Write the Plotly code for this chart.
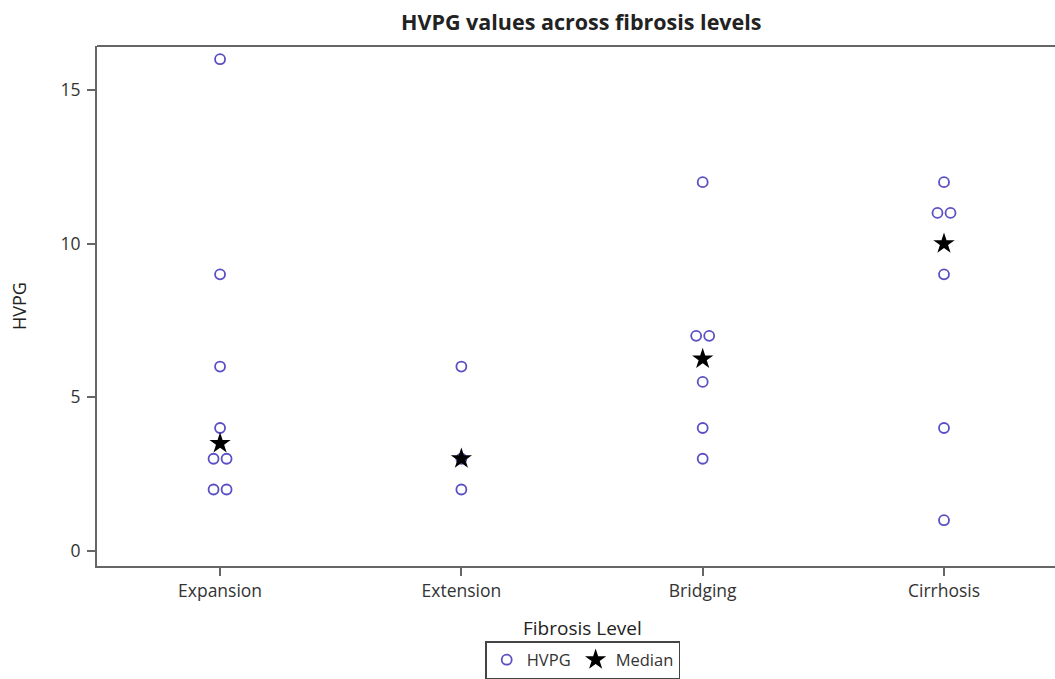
import plotly.graph_objects as go
import numpy as np

categories = ["Expansion", "Extension", "Bridging", "Cirrhosis"]
hvpg_values = {
    "Expansion": [16, 9, 6, 4, 3, 3, 2, 2],
    "Extension": [6, 3, 2],
    "Bridging": [12, 7, 7, 5.5, 4, 3],
    "Cirrhosis": [12, 11, 11, 9, 4, 1],
}
y_ticks = [0, 5, 10, 15]

# build jittered positions for duplicate values (layout only)
xs, ys = [], []
for i, cat in enumerate(categories):
    vals = hvpg_values[cat]
    seen = {}
    for v in vals:
        n = vals.count(v)
        k = seen.get(v, 0)
        seen[v] = k + 1
        off = 0.0 if n == 1 else (k - (n - 1) / 2) * 0.054
        xs.append(i + off)
        ys.append(v)

medians = [float(np.median(hvpg_values[c])) for c in categories]

fig = go.Figure()
fig.add_trace(go.Scatter(
    x=xs, y=ys, mode="markers", name="HVPG",
    marker=dict(symbol="circle-open", size=10, color="#5a4fc4", line=dict(width=1.8, color="#5a4fc4")),
))
fig.add_trace(go.Scatter(
    x=list(range(len(categories))), y=medians, mode="markers", name="Median",
    marker=dict(symbol="star", size=16, color="black", line=dict(width=0)),
))

axis_col = "#666666"
PLOT_TOP, PLOT_BOTTOM = 46, 566
PH = PLOT_BOTTOM - PLOT_TOP

fig.update_layout(
    width=1055, height=679,
    paper_bgcolor="white", plot_bgcolor="white",
    margin=dict(l=97, r=0, t=PLOT_TOP, b=679 - PLOT_BOTTOM, autoexpand=False),
    font=dict(family="Open Sans", color="#333333"),
    xaxis=dict(
        range=[-0.51, 3.46], tickmode="array", tickvals=list(range(len(categories))),
        ticktext=categories, showgrid=False, zeroline=False, automargin=False,
        showline=True, linecolor=axis_col, linewidth=2,
        ticks="outside", ticklen=8, tickcolor=axis_col, tickwidth=1.5,
        tickfont=dict(size=17.5, color="#333333"),
    ),
    yaxis=dict(
        range=[-0.49, 16.43], tickvals=y_ticks, showgrid=False, zeroline=False, automargin=False,
        showline=True, linecolor=axis_col, linewidth=2,
        ticks="outside", ticklen=8, tickcolor=axis_col, tickwidth=1.5,
        tickfont=dict(size=17.5, color="#333333"), ticklabelstandoff=3,
    ),
    legend=dict(
        orientation="h", x=0.507, xanchor="center", y=-(679 - PLOT_BOTTOM) / PH, yanchor="bottom",
        bordercolor="#444444", borderwidth=1.5, font=dict(size=16.5, color="#333333"),
        itemwidth=30, tracegroupgap=0,
    ),
    shapes=[dict(type="line", xref="paper", yref="paper", x0=0, x1=1, y0=1, y1=1,
                 line=dict(color=axis_col, width=2))],
    annotations=[
        dict(text="<b>HVPG values across fibrosis levels</b>", xref="paper", yref="paper",
             x=(581 - 97) / 958, y=1 + (PLOT_TOP - 22) / PH, xanchor="center", yanchor="middle",
             showarrow=False, font=dict(size=21.5, color="#222222")),
        dict(text="Fibrosis Level", xref="paper", yref="paper",
             x=(582 - 97) / 958, y=-(628 - PLOT_BOTTOM) / PH, xanchor="center", yanchor="middle",
             showarrow=False, font=dict(size=19, color="#222222")),
        dict(text="HVPG", xref="paper", yref="paper", textangle=-90,
             x=-(97 - 19) / 958, y=(PLOT_BOTTOM - 306) / PH, xanchor="center", yanchor="middle",
             showarrow=False, font=dict(size=18, color="#222222")),
    ],
)

fig.write_html(
    "out.html",
    config={"displayModeBar": False},
    post_script="document.body.style.margin='0';document.body.style.overflow='hidden';"
                "document.documentElement.style.overflow='hidden';",
)
